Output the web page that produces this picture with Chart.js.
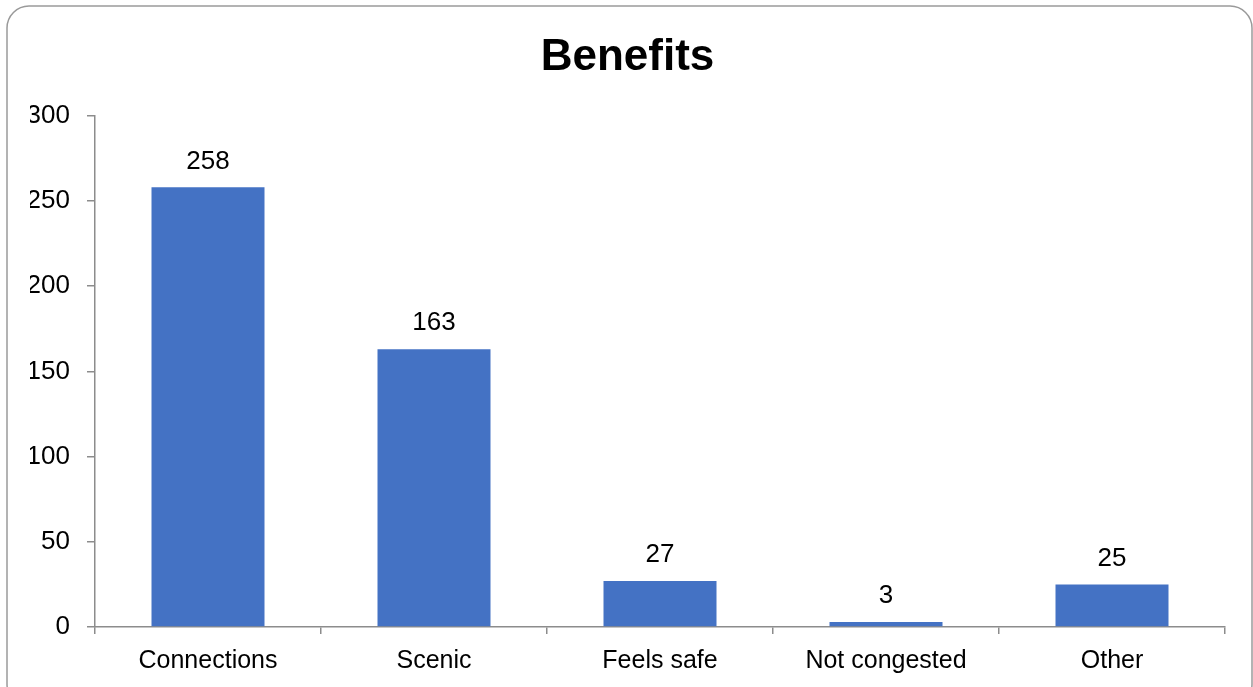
<!DOCTYPE html>
<html>
<head>
<meta charset="utf-8">
<script src="https://cdn.jsdelivr.net/npm/chart.js@4/dist/chart.umd.min.js"></script>
<style>
  html, body { margin: 0; padding: 0; background: #fff; }
  #wrap { width: 1253px; height: 687px; position: relative; }
</style>
</head>
<body>
<div id="wrap"><canvas id="c" width="1253" height="687"></canvas></div>
<script>
const categories = ["Connections", "Scenic", "Feels safe", "Not congested", "Other"];
const counts = [258, 163, 27, 3, 25];
const yTicks = [0, 50, 100, 150, 200, 250, 300];

const FONT = "'Liberation Sans', Arial, sans-serif";
const AXIS = "#8c8c8c";

const frame = {
  id: 'frame',
  beforeDraw(chart) {
    const ctx = chart.ctx;
    ctx.save();
    ctx.fillStyle = '#fff';
    ctx.fillRect(0, 0, chart.width, chart.height);
    ctx.strokeStyle = '#9a9a9a';
    ctx.lineWidth = 1.5;
    ctx.beginPath();
    ctx.roundRect(7, 6, 1245, 700, 22);
    ctx.stroke();
    ctx.restore();
  }
};

const labels = {
  id: 'valueLabels',
  afterDatasetsDraw(chart) {
    const ctx = chart.ctx;
    const meta = chart.getDatasetMeta(0);
    ctx.save();
    ctx.font = "26px " + FONT;
    ctx.fillStyle = '#000';
    ctx.textAlign = 'center';
    ctx.textBaseline = 'middle';
    meta.data.forEach((bar, i) => {
      ctx.fillText(String(counts[i]), bar.x, bar.y - 26);
    });
    ctx.restore();
  }
};

new Chart(document.getElementById('c'), {
  type: 'bar',
  data: {
    labels: categories,
    datasets: [{
      data: counts,
      backgroundColor: '#4472C4',
      borderWidth: 0,
      barPercentage: 0.5,
      categoryPercentage: 1.0
    }]
  },
  options: {
    responsive: false,
    animation: false,
    devicePixelRatio: 1,
    layout: { padding: { left: 30, right: 28, top: 0, bottom: 12 } },
    plugins: {
      legend: { display: false },
      tooltip: { enabled: false },
      title: {
        display: true,
        text: 'Benefits',
        color: '#000',
        font: { family: FONT, size: 44, weight: 'bold' },
        padding: { top: 31, bottom: 32 }
      }
    },
    scales: {
      y: {
        min: 0,
        max: 300,
        afterBuildTicks(scale) { scale.ticks = yTicks.map(v => ({ value: v })); },
        afterFit(scale) { scale.width = 65; },
        ticks: { color: '#000', font: { family: FONT, size: 26 }, padding: 17 },
        grid: { drawOnChartArea: false, drawTicks: true, tickLength: 8, color: AXIS, lineWidth: 1.5 },
        border: { display: true, color: AXIS, width: 1.5 }
      },
      x: {
        afterFit(scale) { scale.height = 48; },
        ticks: { color: '#000', font: { family: FONT, size: 25 }, padding: 12, maxRotation: 0 },
        grid: { drawOnChartArea: false, drawTicks: true, tickLength: 7, color: AXIS, lineWidth: 1.5, offset: true },
        border: { display: true, color: AXIS, width: 1.5 }
      }
    }
  },
  plugins: [frame, labels]
});
</script>
</body>
</html>
